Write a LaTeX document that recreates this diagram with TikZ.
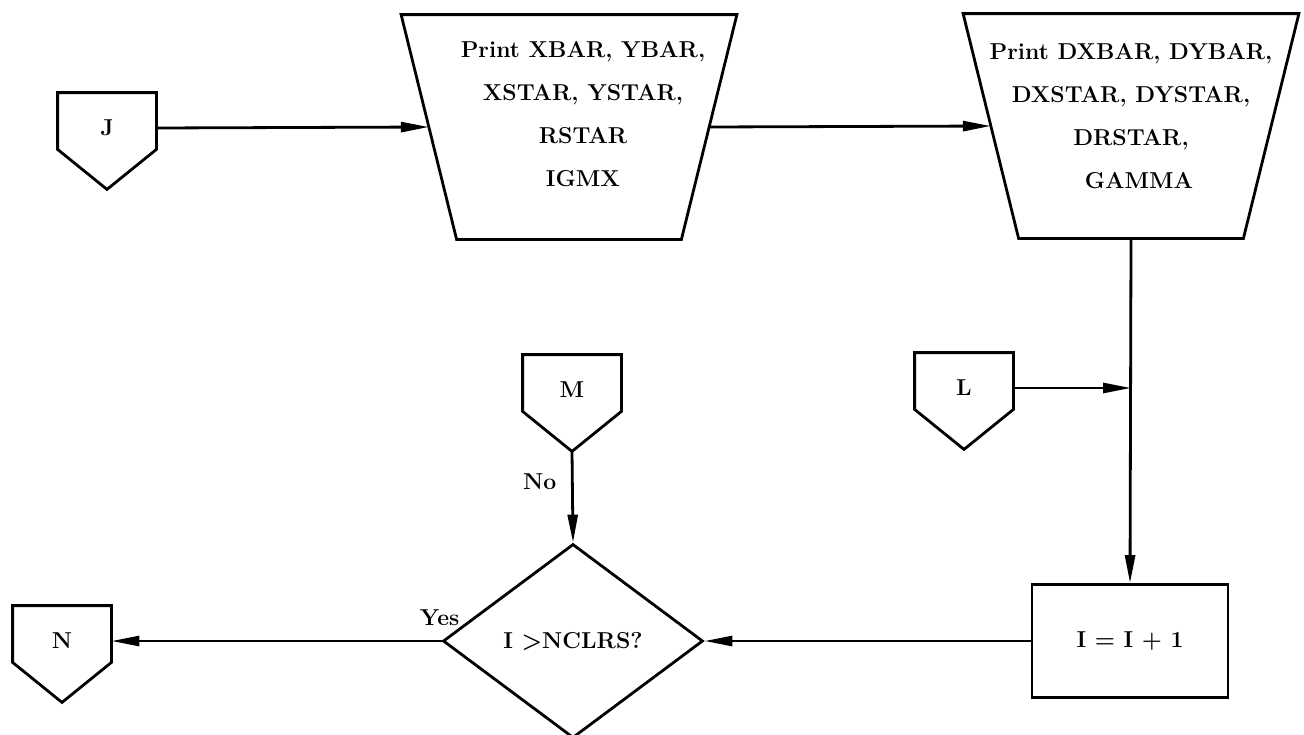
\documentclass[tikz,border=0pt]{standalone}
\usetikzlibrary{shapes.geometric,arrows.meta,calc}
\begin{document}
\begin{tikzpicture}[x=0.5pt,y=-0.5pt,
  every node/.style={font=\fontsize{11.5}{21.5}\selectfont\bfseries},
  ln/.style={line width=1.4pt},
  arr/.style={ln,-{Triangle[length=14pt,width=5pt]}},
  offpage/.style={minimum width=49pt,minimum height=35pt,inner sep=0pt},
  printbox/.style={rectangle,minimum width=167.5pt,minimum height=112pt,inner sep=0pt},
  procbox/.style={draw,ln,rectangle,minimum width=98pt,minimum height=56.5pt},
  decision/.style={draw,ln,diamond,minimum width=130pt,minimum height=97pt,inner sep=0pt}
]
\useasboundingbox (0,0) rectangle (1304,734);

\node[offpage] (J) at (107,128) {J};
\node[printbox] (T1) at (569,127) {};
\node[align=center] (T1t) at (583,114) {Print XBAR, YBAR,\\XSTAR, YSTAR,\\RSTAR\\IGMX};
\node[printbox] (T2) at (1131,126) {};
\node[align=center] (T2t) at (1131,116) {Print DXBAR, DYBAR,\\DXSTAR, DYSTAR,\\DRSTAR,\\\hspace*{8pt}GAMMA};
\node[offpage] (L) at (964,388) {L};
\node[offpage] (M) at (572,390) {M};
\node[decision] (D) at (573,641) {I >NCLRS?};
\node[procbox] (B) at (1130,641) {I = I + 1};
\node[offpage] (N) at (62,641) {N};

% trapezoid outlines (manual input / print symbol)
\foreach \n in {T1,T2}
  \draw[ln] (\n.north west) -- (\n.north east) -- ([xshift=-27.75pt]\n.south east)
    -- ([xshift=27.75pt]\n.south west) -- cycle;

% off-page connector outlines
\foreach \n in {J,L,M,N}
  \draw[ln] (\n.north west) -- ([yshift=7pt]\n.south west) -- ([yshift=-13pt]\n.south)
    -- ([yshift=7pt]\n.south east) -- (\n.north east) -- cycle;

\coordinate (T1in)  at ([xshift=13.9pt]T1.west);
\coordinate (T1out) at ([xshift=-13.9pt]T1.east);
\coordinate (T2in)  at ([xshift=13.9pt]T2.west);
\coordinate (jn) at (T2.south |- L.east);
\coordinate (Mtip) at ([yshift=-13pt]M.south);

\draw[arr] (J.east) -- (T1in);
\draw[arr] (T1out) -- (T2in);
\draw[arr] (T2.south) -- (B.north);
\draw[arr] (L.east) -- (jn);
\draw[arr] (B.west) -- (D.east);
\draw[arr] (Mtip) -- node[pos=0.42,anchor=base east,xshift=-4pt] (no) {No} (D.north);
\draw[arr] (D.west) -- node[pos=0,anchor=base,xshift=-1pt,yshift=8pt] (yes) {Yes} (N.east);
\end{tikzpicture}
\end{document}
